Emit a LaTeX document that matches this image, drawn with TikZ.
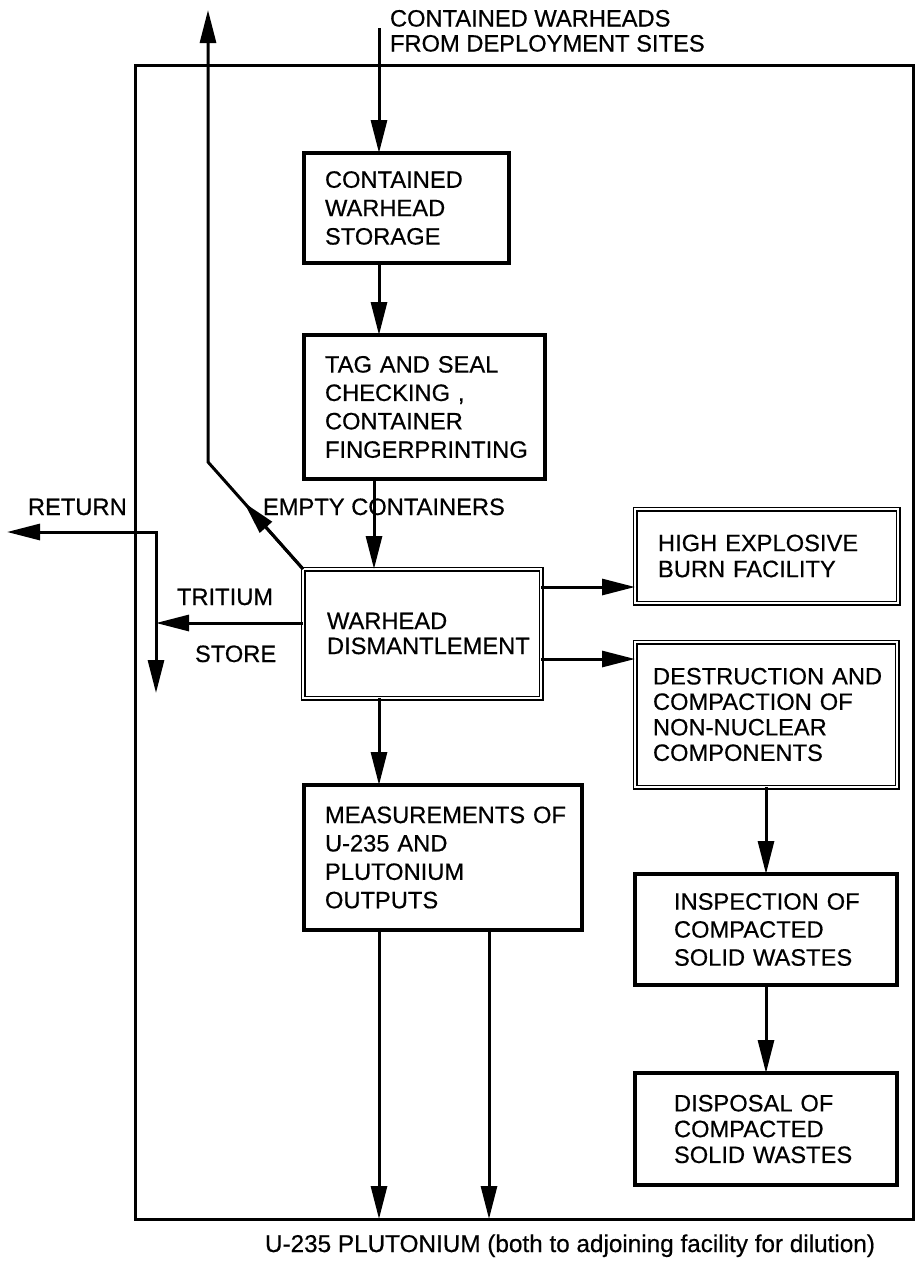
\documentclass[tikz,border=0pt]{standalone}
\usepackage{fontspec}
\setmainfont{Liberation Sans}[FakeBold=0.5]
\usetikzlibrary{arrows.meta,calc}
\newcommand{\fs}[1]{\fontsize{23.7pt}{#1}\selectfont}
\begin{document}
\begin{tikzpicture}[x=1pt,y=-1pt,
  every node/.style={outer sep=0pt},
  box/.style={draw, line width=3.2pt, inner ysep=0pt, align=left},
  dbox/.style={draw, line width=1.3pt, double, double distance=2.4pt, inner ysep=0pt, align=left},
  arr/.style={line width=3pt, -{Triangle[length=33pt,width=16pt]}},
  arrboth/.style={line width=3pt, {Triangle[length=33pt,width=16pt]}-{Triangle[length=33pt,width=16pt]}},
  lbl/.style={inner sep=0pt, font=\fs{28pt}, anchor=base west},
]
\useasboundingbox (0,0) rectangle (915,1264);

% outer facility frame
\node[draw, line width=3pt, minimum width=778pt, minimum height=1154pt, inner sep=0pt] (frame) at (524,642) {};

% boxes
\node[box, font=\fs{28.4pt}, minimum width=205pt, minimum height=110pt, inner xsep=21pt, text width=163pt] (storage) at (406.5,208) {CONTAINED\\WARHEAD\\STORAGE};
\node[box, font=\fs{28.4pt}, minimum width=241pt, minimum height=144pt, inner xsep=21pt, text width=199pt] (tag) at (424.5,407) {TAG AND SEAL\\CHECKING ,\\CONTAINER\\FINGERPRINTING};
\node[dbox, font=\fs{25pt}, minimum width=238pt, minimum height=129pt, inner xsep=24pt, text width=190pt] (dismantle) at (422,633.5) {WARHEAD\\DISMANTLEMENT};
\node[dbox, font=\fs{26pt}, minimum width=263pt, minimum height=94pt, inner xsep=23pt, text width=217pt] (he) at (766.5,556) {HIGH EXPLOSIVE\\BURN FACILITY};
\node[dbox, font=\fs{25.5pt}, minimum width=262pt, minimum height=145pt, inner xsep=18pt, text width=226pt] (destr) at (766,714.5) {DESTRUCTION~AND\\COMPACTION OF\\NON-NUCLEAR\\COMPONENTS};
\node[box, font=\fs{28.4pt}, minimum width=278pt, minimum height=145pt, inner xsep=21pt, text width=236pt] (meas) at (443,857.5) {MEASUREMENTS~OF\\U-235 AND\\PLUTONIUM\\OUTPUTS};
\node[box, font=\fs{28pt}, minimum width=262pt, minimum height=111pt, inner xsep=39pt, text width=184pt] (insp) at (766,929.5) {INSPECTION~OF\\COMPACTED\\SOLID~WASTES};
\node[box, font=\fs{25.8pt}, minimum width=262pt, minimum height=112pt, inner xsep=39pt, text width=184pt] (disp) at (766,1129) {DISPOSAL OF\\COMPACTED\\SOLID~WASTES};

% labels
\node[lbl, anchor=north west, font=\fs{25pt}, align=left] (title) at (390,10) {CONTAINED WARHEADS\\FROM DEPLOYMENT SITES};
\node[lbl] (ret) at (28,515) {RETURN};
\node[lbl] (empty) at (263,515) {EMPTY CONTAINERS};
\node[lbl] (trit) at (177,605) {TRITIUM};
\node[lbl] (store) at (195,662) {STORE};
\node[lbl, font=\fontsize{24.3pt}{29pt}\selectfont] (out) at (265,1252) {U-235 PLUTONIUM (both to adjoining facility for dilution)};

% helper coordinates
\coordinate (src) at (379,28);
\coordinate (upend) at (208,10);
\coordinate (bend) at (208,462);
\coordinate (rc) at (156,532);
\coordinate (retend) at (7,532);
\coordinate (storeend) at (156,693);
\coordinate (xa) at (379,0);
\coordinate (xb) at (374,0);
\coordinate (xc) at (489,0);
\coordinate (y1) at (0,587);
\coordinate (y2) at (0,659);
\coordinate (y3) at (0,623);

% connectors
\draw[arr] (src) -- (src |- storage.north);
\draw[arr] (xa |- storage.south) -- (xa |- tag.north);
\draw[arr] (xb |- tag.south) -- (xb |- dismantle.north);
\draw[arr] (xa |- dismantle.south) -- (xa |- meas.north);
\draw[arr] (xa |- meas.south) -- (xa |- frame.south);
\draw[arr] (xc |- meas.south) -- (xc |- frame.south);
\draw[arr] (dismantle.east |- y1) -- (he.west |- y1);
\draw[arr] (dismantle.east |- y2) -- (destr.west |- y2);
\draw[arr] (destr.south) -- (insp.north);
\draw[arr] (insp.south) -- (disp.north);
\draw[arr] (dismantle.west |- y3) -- (rc |- y3);
\draw[arrboth] (retend) -- (rc) -- (storeend);
\draw[arr, line join=miter] (dismantle.north west) -- (bend) -- (upend);
\draw[arr] (dismantle.north west) -- ($(dismantle.north west)!0.62!(bend)$);
\end{tikzpicture}
\end{document}
